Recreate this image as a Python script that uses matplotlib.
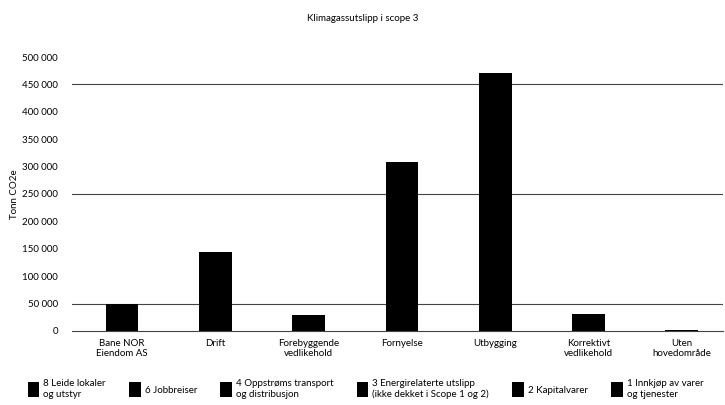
import matplotlib
matplotlib.use("Agg")
import matplotlib.pyplot as plt
from matplotlib.patches import Patch
from matplotlib.ticker import FuncFormatter

plt.rcParams['font.family'] = ['Lato', 'DejaVu Sans']

# Hovedområder (x-akse)
categories = ["Bane NOR\nEiendom AS", "Drift", "Forebyggende\nvedlikehold", "Fornyelse",
              "Utbygging", "Korrektivt\nvedlikehold", "Uten\nhovedområde"]

# Utslipp per kategori i scope 3 (tonn CO2e), stablet
series_names = ["8 Leide lokaler\nog utstyr", "6 Jobbreiser", "4 Oppstrøms transport\nog distribusjon",
                "3 Energirelaterte utslipp\n(ikke dekket i Scope 1 og 2)", "2 Kapitalvarer",
                "1 Innkjøp av varer\nog tjenester"]
leide_lokaler = [0, 0, 0, 0, 0, 0, 0]
jobbreiser = [0, 0, 0, 0, 0, 0, 0]
oppstroms_transport = [0, 0, 0, 0, 0, 0, 0]
energirelaterte = [0, 0, 0, 0, 0, 0, 0]
kapitalvarer = [0, 26000, 0, 0, 0, 0, 0]
innkjop = [50000, 118000, 29000, 309000, 471000, 30500, 1500]

yticks = list(range(0, 500001, 50000))
grid_levels = [50000, 250000, 450000]

fig = plt.figure(figsize=(7.25, 4.05), dpi=100)
ax = fig.add_axes([0.099, 0.183, 0.898, 0.676])

x = range(len(categories))
bottom = [0] * len(categories)
stack = [innkjop, kapitalvarer, energirelaterte, oppstroms_transport, jobbreiser, leide_lokaler]
for vals in stack:
    ax.bar(x, vals, width=0.35, bottom=bottom, color="black", zorder=3)
    bottom = [b + v for b, v in zip(bottom, vals)]

for lvl in grid_levels:
    ax.axhline(lvl, color="#444444", linewidth=0.8, zorder=1)

ax.set_xlim(-0.54, 6.44)
ax.set_ylim(0, 500000)
ax.set_yticks(yticks)
ax.yaxis.set_major_formatter(FuncFormatter(lambda v, p: f"{int(v):,}".replace(",", " ")))
ax.set_xticks(list(x))
ax.set_xticklabels(categories, fontsize=7, linespacing=1.1)
ax.tick_params(axis="y", length=0, labelsize=7, pad=10)
ax.tick_params(axis="x", length=0, pad=6)
for side in ["top", "right", "left"]:
    ax.spines[side].set_visible(False)
ax.spines["bottom"].set_color("#444444")
ax.spines["bottom"].set_linewidth(0.8)

ax.set_ylabel("Tonn CO2e", fontsize=7, labelpad=2)
fig.text(0.5, 0.955, "Klimagassutslipp i scope 3", ha="center", va="center", fontsize=7)

handles = [Patch(facecolor="black") for _ in series_names]
fig.legend(handles, series_names, loc="lower left", bbox_to_anchor=(0.03, 0.0),
           ncol=6, frameon=False, fontsize=7, handlelength=1.2, handleheight=2.0,
           handletextpad=0.4, columnspacing=2.4, borderaxespad=0.2)

fig.savefig("out.png", dpi=100)
